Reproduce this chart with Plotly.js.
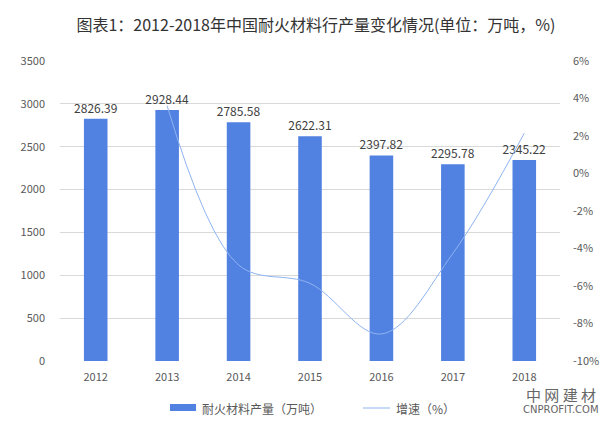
<!DOCTYPE html>
<html><head><meta charset="utf-8">
<script src="https://cdn.plot.ly/plotly-3.0.1.min.js"></script>
<style>html,body{margin:0;padding:0;background:#fff}#c{width:616px;height:422px}</style>
</head><body><div id="c"></div>
<script>
const years = ['2012','2013','2014','2015','2016','2017','2018'];
const output = [2826.39, 2928.44, 2785.58, 2622.31, 2397.82, 2295.78, 2345.22];
const growthYears = ['2013','2014','2015','2016','2017','2018'];
const growth = [3.61, -4.88, -5.86, -8.56, -4.26, 2.15];
const leftTicks = [0,500,1000,1500,2000,2500,3000,3500];
const rightTicks = [-10,-8,-6,-4,-2,0,2,4,6];
const seriesNames = ['耐火材料产量（万吨）', '增速（%）'];

const F = '"Noto Sans CJK SC", "Microsoft YaHei", sans-serif';
const barColor = '#5282e1', lineColor = '#8fb4f2';
const data = [
  {type:'bar', x:years, y:output, name:seriesNames[0],
   marker:{color:barColor}, width:0.33,
   text:output.map(v=>v.toFixed(2)), textposition:'outside', cliponaxis:false, constraintext:'none',
   textfont:{family:F,size:12,color:'#404040'}},
  {type:'scatter', mode:'lines', x:growthYears, y:growth, yaxis:'y2', name:seriesNames[1],
   line:{color:lineColor, width:1, shape:'spline', smoothing:1}}
];
// paper coords helpers (plot area: x 60..560, y 61..361)
const px = x => (x-60)/500, py = y => (361-y)/300;
const layout = {
  width:616, height:422,
  margin:{l:60, r:56, t:61, b:61},
  paper_bgcolor:'#fff', plot_bgcolor:'#fff',
  font:{family:F, color:'#595959', size:11},
  title:{text:'图表1：2012-2018年中国耐火材料行产量变化情况(单位：万吨，%)', x:316/616, xanchor:'center', y:1-25/422, yanchor:'middle',
         font:{family:F, size:16, color:'#333'}},
  xaxis:{type:'category', showgrid:false, zeroline:false, showline:false, ticks:'', ticklabelstandoff:8, tickfont:{size:11,color:'#595959'}},
  yaxis:{range:[0,3500], tickvals:leftTicks, showgrid:true, gridcolor:'#d9d9d9', gridwidth:1, zeroline:false,
         ticks:'', ticklabelstandoff:14, tickfont:{size:11,color:'#595959'}},
  yaxis2:{overlaying:'y', side:'right', range:[-10,6], tickvals:rightTicks, ticktext:rightTicks.map(v=>v+'%'),
          showgrid:false, zeroline:false, ticks:'', ticklabelstandoff:12, tickfont:{size:11,color:'#595959'}},
  showlegend:false,
  shapes:[
    {type:'rect', xref:'paper', yref:'paper', x0:px(170), x1:px(196), y0:py(411), y1:py(404), fillcolor:barColor, line:{width:0}},
    {type:'line', xref:'paper', yref:'paper', x0:px(363), x1:px(390), y0:py(408), y1:py(408), line:{color:lineColor, width:1}}
  ],
  annotations:[
    {text:seriesNames[0], xref:'paper', yref:'paper', x:px(200), y:py(408), xanchor:'left', yanchor:'middle', showarrow:false,
     font:{family:F, size:12, color:'#595959'}},
    {text:seriesNames[1], xref:'paper', yref:'paper', x:px(394), y:py(408), xanchor:'left', yanchor:'middle', showarrow:false,
     font:{family:F, size:12, color:'#595959'}},
    {text:'中 网 建 材', xref:'paper', yref:'paper', x:px(598), y:py(394), xanchor:'right', yanchor:'middle', showarrow:false,
     font:{family:F, size:15, color:'#666'}},
    {text:'CNPROFIT.COM', xref:'paper', yref:'paper', x:px(601), y:py(409), xanchor:'right', yanchor:'middle', showarrow:false,
     font:{family:'"DejaVu Sans", sans-serif', size:10, color:'#666'}}
  ]
};
Plotly.newPlot('c', data, layout, {displayModeBar:false, staticPlot:true});
</script></body></html>
